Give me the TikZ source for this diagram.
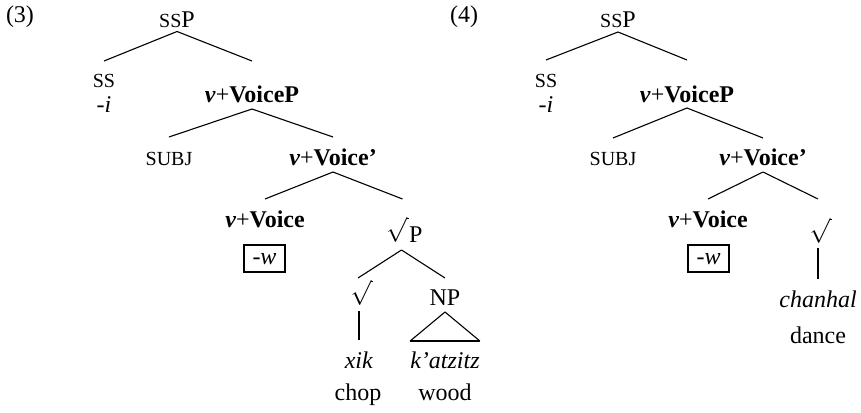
\documentclass[tikz,border=0pt]{standalone}
\usepackage{fontspec}
\setmainfont{Liberation Serif}
\newcommand\fakesc[1]{{\fontsize{20}{24}\selectfont #1}}
\newcommand\vplus{\textbf{\textit{v}}+}
% radical sign with a short stub of its bar, sitting on the baseline
\newcommand\rad{\raisebox{3pt}{$\sqrt{\hbox to 2pt{\vphantom{P}}}$}}
\begin{document}
\begin{tikzpicture}[x=1pt,y=-1pt,
  every node/.style={font=\fontsize{24}{28}\selectfont, inner sep=0pt, anchor=base},
  branch/.style={line width=1.1pt},
  stem/.style={line width=2pt},
  boxed/.style={draw, line width=1.6pt, anchor=center, minimum width=41pt, minimum height=27pt, text height=11pt, text depth=0pt},
]
\useasboundingbox (0,0) rectangle (861,412);

% ---------- tree (3) ----------
\node (lbl3) at (20,23) {(3)};
\node (ssPa) at (177,28) {\fakesc{SS}P};
\node (ssa) at (104,87) {\fakesc{SS}};
\node (ia) at (104,112) {\textit{-i}};
\node (vpa) at (252,102) {\vplus\textbf{VoiceP}};
\node (subja) at (169,165) {\fakesc{SUBJ}};
\node (vbara) at (333,165) {\vplus\textbf{Voice'}};
\node (va) at (265,227) {\vplus\textbf{Voice}};
\node[boxed] (boxa) at (264.5,258.5) {\textit{-w}};
\node (rpa) at (404.5,242) {\rad P};
\node (ra) at (362,305) {\rad};
\node (npa) at (445,305) {NP};
\node (xika) at (359,368) {\textit{xik}};
\node (kata) at (445,368) {\textit{k'atzitz}};
\node (chopa) at (358,400) {chop};
\node (wooda) at (445,400) {wood};

\draw[branch] ([yshift=-3.5pt]ssPa.base) -- ([yshift=26pt]ssa.base);
\draw[branch] ([yshift=-3.5pt]ssPa.base) -- ([yshift=41pt]vpa.base);
\draw[branch] ([yshift=-7pt]vpa.base) -- ([yshift=28pt]subja.base);
\draw[branch] ([yshift=-7pt]vpa.base) -- ([yshift=28pt]vbara.base);
\draw[branch] ([yshift=-7pt]vbara.base) -- ([yshift=28pt]va.base);
\draw[branch] ([yshift=-7pt]vbara.base) -- ([xshift=-2pt,yshift=43pt]rpa.base);
\draw[branch] ([xshift=-3pt,yshift=-8pt]rpa.base) -- ([xshift=-4pt,yshift=27pt]ra.base);
\draw[branch] ([xshift=-3pt,yshift=-8pt]rpa.base) -- ([yshift=27pt]npa.base);
\draw[stem] ([xshift=-3pt,yshift=-6pt]ra.base) -- ([yshift=28pt]xika.base);
\draw[branch] ([yshift=-7pt]npa.base) -- ([yshift=27pt]kata.base west);
\draw[branch] ([yshift=-7pt]npa.base) -- ([yshift=27pt]kata.base east);
\draw[stem] ([yshift=27pt]kata.base west) -- ([yshift=27pt]kata.base east);

% ---------- tree (4) ----------
\node (lbl4) at (464,23) {(4)};
\node (ssPb) at (618,28) {\fakesc{SS}P};
\node (ssb) at (546,87) {\fakesc{SS}};
\node (ib) at (546,112) {\textit{-i}};
\node (vpb) at (687,102) {\vplus\textbf{VoiceP}};
\node (subjb) at (613,165) {\fakesc{SUBJ}};
\node (vbarb) at (763,165) {\vplus\textbf{Voice'}};
\node (vb) at (708,227) {\vplus\textbf{Voice}};
\node[boxed] (boxb) at (708.5,258.5) {\textit{-w}};
\node (rb) at (821,243) {\rad};
\node (chanb) at (818,307) {\textit{chanhal}};
\node (danceb) at (818,343) {dance};

\draw[branch] ([yshift=-4pt]ssPb.base) -- ([yshift=27pt]ssb.base);
\draw[branch] ([yshift=-4pt]ssPb.base) -- ([yshift=42pt]vpb.base);
\draw[branch] ([yshift=-6pt]vpb.base) -- ([yshift=27pt]subjb.base);
\draw[branch] ([yshift=-6pt]vpb.base) -- ([yshift=27pt]vbarb.base);
\draw[branch] ([yshift=-7pt]vbarb.base) -- ([yshift=28pt]vb.base);
\draw[branch] ([yshift=-7pt]vbarb.base) -- ([xshift=-3pt,yshift=44pt]rb.base);
\draw[stem] ([xshift=-3pt,yshift=-5pt]rb.base) -- ([yshift=28pt]chanb.base);
\end{tikzpicture}
\end{document}
